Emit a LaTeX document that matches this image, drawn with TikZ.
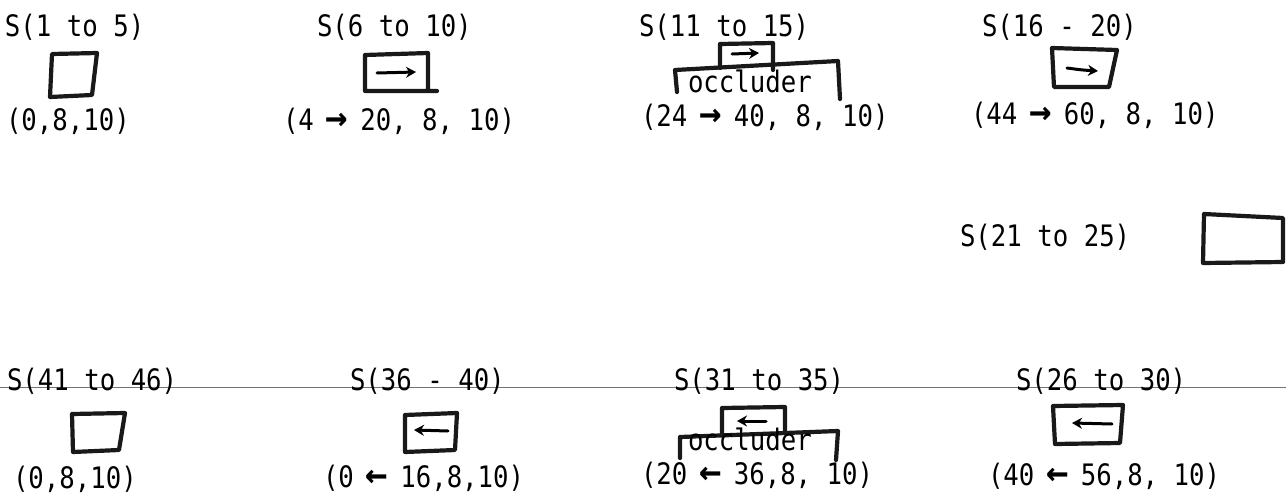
\documentclass[tikz,border=0pt]{standalone}
\usepackage{fontspec}
\usetikzlibrary{arrows.meta}
\newfontfamily\tw{DejaVu Sans Mono}
\newfontfamily\twb{DejaVu Sans Mono Bold}
\newcommand{\typed}[1]{\scalebox{1}[1.15]{\fontsize{25.7pt}{30pt}\tw #1}}
% heavier text arrows, kept to one character cell
\newcommand{\ra}{\makebox[0.602em]{\scalebox{1.45}[1.3]{\twb →}}}
\newcommand{\la}{\makebox[0.602em]{\scalebox{1.45}[1.3]{\twb ←}}}
\begin{document}
\begin{tikzpicture}[x=1pt,y=-1pt,
  lbl/.style={anchor=base west,inner sep=0pt,outer sep=0pt},
  sketch/.style={line width=4.2pt,line join=round,line cap=round,black!90},
  inarrow/.style={line width=3pt,line cap=round,-{Stealth[length=10pt,width=11pt]}},
  rule/.style={line width=0.9pt,black!55}]
\useasboundingbox (0,0) rectangle (1286,498);

% ---- top row: sequences 1 to 20 ----
\node[lbl] (s1)  at (5,36)   {\typed{S(1 to 5)}};
\node[lbl] (c1)  at (6,130)  {\typed{(0,8,10)}};
\draw[sketch] (52,54) -- (97,53) -- (92,95) -- (50,97) -- cycle;

\node[lbl] (s2)  at (317,36) {\typed{S(6 to 10)}};
\node[lbl] (c2)  at (283,130) {\typed{(4 \ra{} 20, 8, 10)}};
\draw[sketch] (437,91) -- (365,91) -- (365,55) -- (428,53) -- (428,90);
\draw[inarrow] (377,73) -- (416,72);

\node[lbl] (s3)  at (639,36) {\typed{S(11 to 15)}};
\node[lbl] (c3)  at (641,126) {\typed{(24 \ra{} 40, 8, 10)}};
\draw[sketch] (720,68) -- (720,44) -- (773,43) -- (773,70);
\draw[inarrow] (732,54) -- (759,53);
\draw[sketch] (677,92) -- (675,70) -- (838,61) -- (840,99);
\node[lbl] (o1)  at (688,92) {\typed{occluder}};

\node[lbl] (s4)  at (982,36) {\typed{S(16 - 20)}};
\node[lbl] (c4)  at (971,124) {\typed{(44 \ra{} 60, 8, 10)}};
\draw[sketch] (1052,48) -- (1117,50) -- (1109,87) -- (1054,87) -- cycle;
\draw[inarrow] (1067,68) .. controls (1082,70) .. (1098,71);

% ---- middle: sequence 21 to 25 ----
\node[lbl] (s5)  at (960,246) {\typed{S(21 to 25)}};
\draw[sketch] (1204,214) -- (1283,218) -- (1283,262) -- (1203,263) -- cycle;

% ---- rule under the bottom labels ----
\coordinate (ruleL) at (0,387);
\coordinate (ruleR) at (1286,387);
\draw[rule] (ruleL) -- (ruleR);

% ---- bottom row: sequences 26 to 46 ----
\node[lbl] (s9)  at (7,390)   {\typed{S(41 to 46)}};
\node[lbl] (c9)  at (13,488)  {\typed{(0,8,10)}};
\draw[sketch] (72,414) -- (125,413) -- (119,450) -- (73,452) -- cycle;

\node[lbl] (s8)  at (350,390) {\typed{S(36 - 40)}};
\node[lbl] (c8)  at (323,487) {\typed{(0 \la{} 16,8,10)}};
\draw[sketch] (405,415) -- (457,413) -- (455,450) -- (405,452) -- cycle;
\draw[inarrow] (448,431) -- (414,430);

\node[lbl] (s7)  at (674,390) {\typed{S(31 to 35)}};
\node[lbl] (c7)  at (641,484) {\typed{(20 \la{} 36,8, 10)}};
\draw[sketch] (722,434) -- (722,408) -- (785,407) -- (785,432);
\draw[inarrow] (766,421) -- (737,421);
\draw[sketch] (680,458) -- (680,437) -- (838,431) -- (836,460);
\node[lbl] (o2)  at (688,450) {\typed{occluder}};

\node[lbl] (s6)  at (1016,390) {\typed{S(26 to 30)}};
\node[lbl] (c6)  at (988,485) {\typed{(40 \la{} 56,8, 10)}};
\draw[sketch] (1053,406) -- (1123,405) -- (1120,443) -- (1055,444) -- cycle;
\draw[inarrow] (1112,424) -- (1072,423);
\end{tikzpicture}
\end{document}
